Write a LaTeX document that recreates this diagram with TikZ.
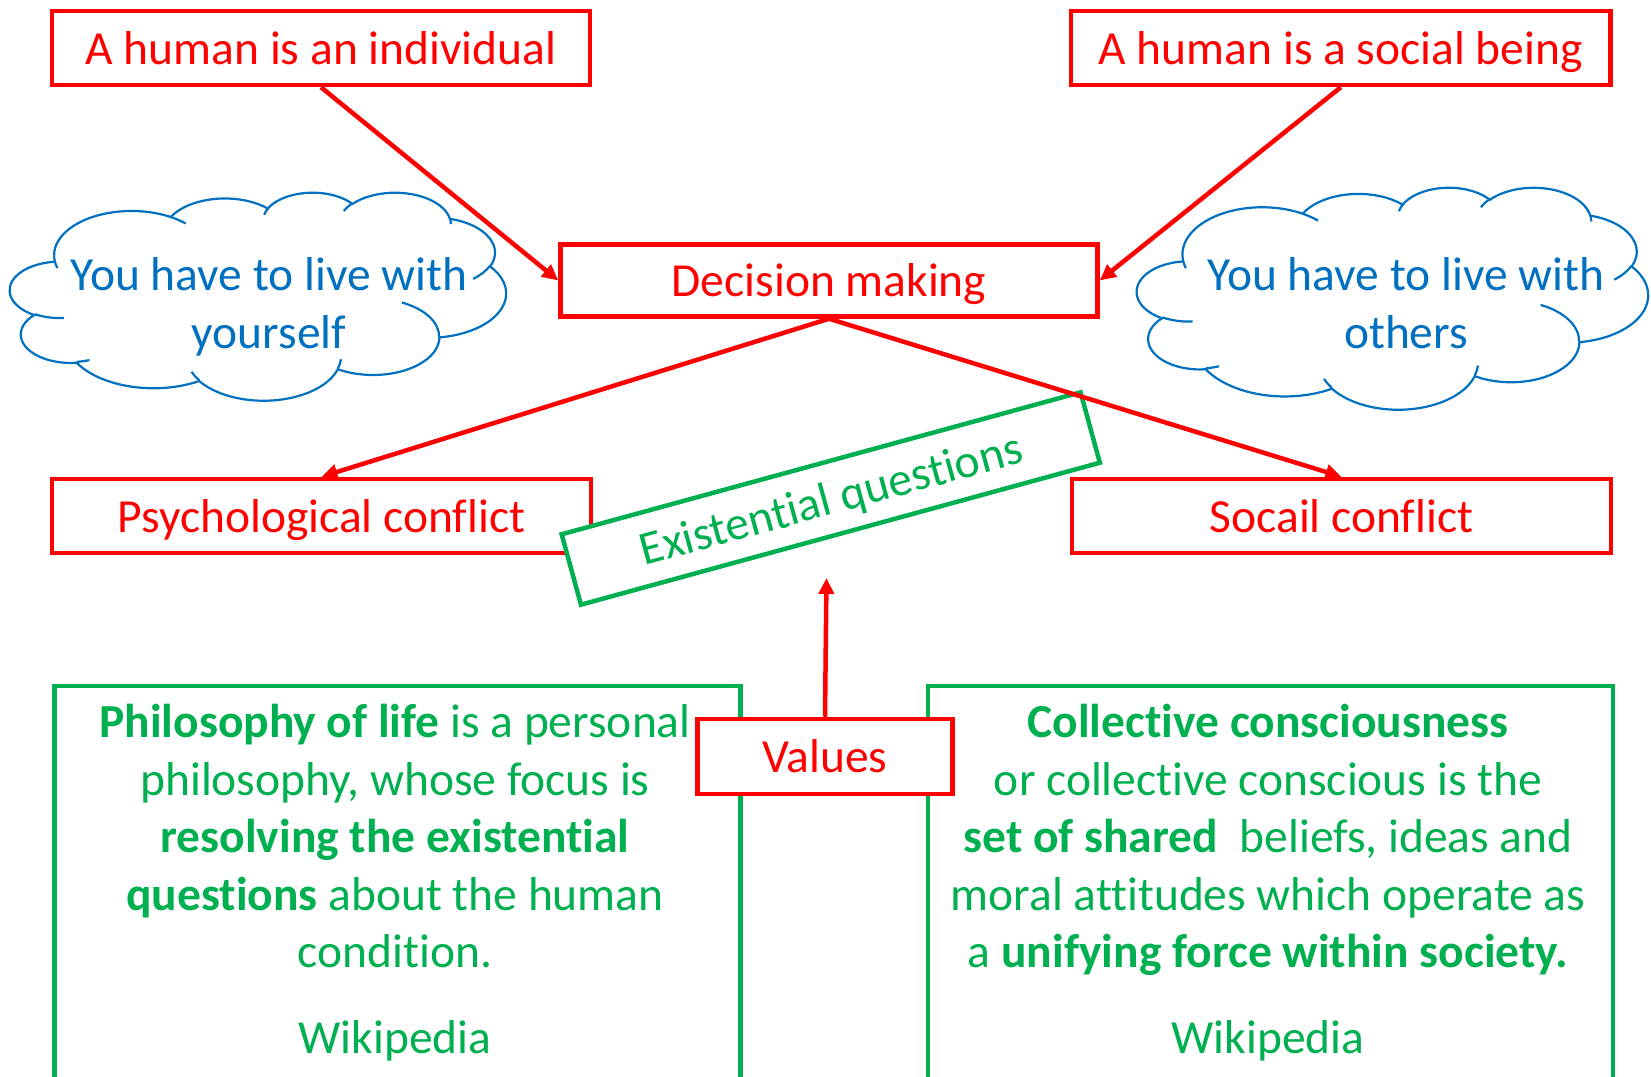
\documentclass[tikz,border=0pt]{standalone}
\usepackage{fontspec}
\setmainfont{Carlito}[Ligatures={NoCommon,NoRare,NoContextual}]
\usetikzlibrary{arrows.meta}
\definecolor{pred}{HTML}{FF0000}
\definecolor{pgreen}{HTML}{00B050}
\definecolor{pblue}{HTML}{0070C0}
\newcommand\drawcloud[4]{%
  \begin{scope}[shift={(#1,#2)}, x=1pt, y=1pt, xscale=#3/4320, yscale=-#4/4320]
    \draw[cloudline, fill=white] (390,1437)
      arc[start angle={pa(-190.4875,675.3,919)}, end angle={pa(-66.7070,675.3,919)}, x radius=675.3, y radius=919]
      arc[start angle={pa(-144.1024,533.3,726.7)}, end angle={pa(-54.1572,533.3,726.7)}, x radius=533.3, y radius=726.7]
      arc[start angle={pa(-145.8079,436.5,594.5)}, end angle={pa(-46.0849,436.5,594.5)}, x radius=436.5, y radius=594.5]
      arc[start angle={pa(-130.9861,485.7,659.5)}, end angle={pa(-13.7444,485.7,659.5)}, x radius=485.7, y radius=659.5]
      arc[start angle={pa(-78.7089,533.3,727.3)}, end angle={pa(30.3180,533.3,727.3)}, x radius=533.3, y radius=727.3]
      arc[start angle={pa(-46.2673,677.5,922)}, end angle={pa(84.0017,677.5,922)}, x radius=677.5, y radius=922]
      arc[start angle={pa(0.6250,578.5,786.7)}, end angle={pa(114.6583,578.5,786.7)}, x radius=578.5, y radius=786.7]
      arc[start angle={pa(22.4516,675.2,921.5)}, end angle={pa(137.6242,675.2,921.5)}, x radius=675.2, y radius=921.5]
      arc[start angle={pa(66.2426,772,1054.3)}, end angle={pa(141.9536,772,1054.3)}, x radius=772, y radius=1054.3]
      arc[start angle={pa(-274.9421,436,591.8)}, end angle={pa(-128.2065,436,591.8)}, x radius=436, y radius=591.8]
      arc[start angle={pa(-246.8285,434.5,594.5)}, end angle={pa(-94.3096,434.5,594.5)}, x radius=434.5, y radius=594.5]
      -- cycle;
    \foreach \px/\py/\rx/\ry/\sa/\ea in {
      469.3/2617.7/434.5/594.5/86.7420/113.1715,
      692.8/3489.9/436/591.8/73.6105/85.0580,
      1647.8/3909.0/675.2/921.5/137.6242/151.7053,
      2882.7/3475.1/675.2/921.5/6.4533/22.4517,
      3412.9/2295.4/578.5/786.7/-70.2924/0.6250,
      4179.8/1535.4/533.3/727.3/30.3180/58.0695,
      3832.4/542.6/485.7/659.5/-13.7443/1.1146,
      2907.8/395.2/485.7/659.5/-149.1815/-130.9861,
      2214.1/472.0/436.5/594.5/-163.4943/-145.8079,
      1400.0/519.2/675.3/919/-66.7070/-54.3876,
      412.7/1578.9/675.3/919/157.6544/169.5126}
      {\draw[cloudline] (\px,\py) arc[start angle={pa(\sa,\rx,\ry)}, end angle={pa(\ea,\rx,\ry)}, x radius=\rx, y radius=\ry];}
  \end{scope}}
\begin{document}
\begin{tikzpicture}[x=1pt,y=-1pt,
  declare function={pa(\ang,\rxa,\rya)=\ang+mod(atan2(\rxa*sin(\ang),\rya*cos(\ang))-(\ang)+540,360)-180;},
  every node/.style={font=\fontsize{47.5}{57.5}\selectfont},
  cloudline/.style={draw=pblue, line width=2.2pt},
  rbox/.style={draw=pred, line width=4.5pt, fill=white, text=pred, inner sep=0pt, text height=42pt, text depth=10pt},
  gbox/.style={draw=pgreen, line width=4.5pt, fill=white, inner sep=0pt},
  gtext/.style={text=pgreen, align=center, inner sep=0pt},
  ctext/.style={text=pblue, align=center, inner sep=0pt},
  rarrow/.style={draw=pred, line width=4.5pt, -{Triangle[length=16pt,width=15pt]}}
]
\useasboundingbox (0,0) rectangle (1651,1076);
\fill[white] (0,0) rectangle (1651,1076);

% clouds
\drawcloud{10}{192}{496}{208}
\drawcloud{1137}{187}{511}{222}
\node[ctext, anchor=north] (cloudL) at (269,250.5) {\strut You have to live with\\\strut yourself};
\node[ctext, anchor=north] (cloudR) at (1406,250.5) {\strut You have to live with\\\strut others};

% red boxes
\node[rbox, minimum width=538, minimum height=74] (indiv) at (321,48) {A human is an individual};
\node[rbox, minimum width=539.5, minimum height=74] (social) at (1340.75,48) {A human is a social being};
\node[rbox, minimum width=537, minimum height=72] (dec) at (829,280.5) {Decision making};
\node[rbox, minimum width=539, minimum height=74] (psych) at (321.5,516) {Psychological conflict};
\node[rbox, minimum width=539, minimum height=74] (socail) at (1341.5,516) {Socail conflict};

% green boxes at the bottom
\node[gbox, anchor=north west, minimum width=686, minimum height=420] (philbox) at (52,683.5) {};
\node[gbox, anchor=north west, minimum width=685, minimum height=420] (collbox) at (925.5,683.5) {};
\node[gtext, anchor=north] (philtxt) at (395,697.5) {\strut\textbf{Philosophy of life} is a personal\\
  \strut philosophy, whose focus is\\
  \strut\textbf{resolving the existential}\\
  \strut\textbf{questions} about the human\\
  \strut condition.\\[28.5pt]
  \strut Wikipedia};
\node[gtext, anchor=north] (colltxt) at (1268,697.5) {\strut\textbf{Collective consciousness}\\
  \strut or collective conscious is the\\
  \strut\textbf{set of shared}~ beliefs, ideas and\\
  \strut moral attitudes which operate as\\
  \strut a \textbf{unifying force within society.}\\[28.5pt]
  \strut Wikipedia};

% values
\node[rbox, minimum width=255, minimum height=75] (val) at (825,756.5) {Values};

% existential questions
\node[gbox, text=pgreen, rotate=15.3, minimum width=538, minimum height=73, text height=42pt, text depth=10pt] (exq) at (830.75,498.5) {Existential questions};

% connectors
\coordinate (vtip) at (826.5,578);
\draw[rarrow] (indiv.south) -- (dec.west);
\draw[rarrow] (social.south) -- (dec.east);
\draw[rarrow] (dec.south) -- (psych.north);
\draw[rarrow] (dec.south) -- (socail.north);
\draw[rarrow] (val.north) -- (vtip);
\end{tikzpicture}
\end{document}
